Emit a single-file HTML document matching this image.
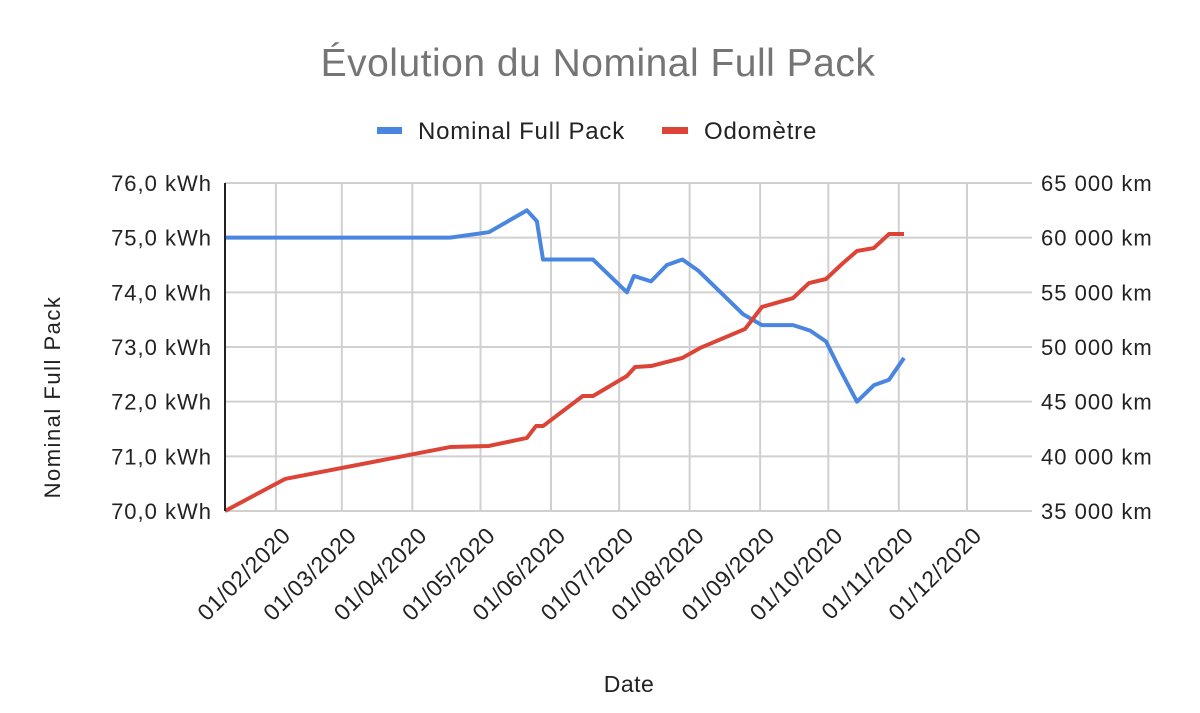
<!DOCTYPE html>
<html><head><meta charset="utf-8"><style>
body{margin:0;background:#fff}
svg text{font-family:"Liberation Sans",Arial,sans-serif}
</style></head><body>
<svg id="chart" width="1200" height="708" viewBox="0 0 1200 708" xmlns="http://www.w3.org/2000/svg">
<text x="598" y="76" text-anchor="middle" font-size="39" letter-spacing="0.5" fill="#757575">Évolution du Nominal Full Pack</text>
<g>
<g><rect x="377" y="127" width="25" height="7" fill="#4a86e0"/><text x="418" y="139" font-size="24" letter-spacing="0.8" fill="#222">Nominal Full Pack</text></g>
<g><rect x="662" y="127" width="26" height="7" fill="#db4437"/><text x="704" y="139" font-size="24" letter-spacing="0.8" fill="#222">Odomètre</text></g>
</g>
<g id="grid"></g>
<g id="series"></g>
<g id="axes"></g>
<text transform="translate(60,397) rotate(-90)" text-anchor="middle" font-size="22" letter-spacing="1.5" fill="#222">Nominal Full Pack</text>
<text x="629" y="692" text-anchor="middle" font-size="23" letter-spacing="0.5" fill="#222">Date</text>
</svg>
<script>
const leftTicks=["70,0 kWh","71,0 kWh","72,0 kWh","73,0 kWh","74,0 kWh","75,0 kWh","76,0 kWh"];
const rightTicks=["35 000 km","40 000 km","45 000 km","50 000 km","55 000 km","60 000 km","65 000 km"];
const monthLabels=["01/02/2020","01/03/2020","01/04/2020","01/05/2020","01/06/2020","01/07/2020","01/08/2020","01/09/2020","01/10/2020","01/11/2020","01/12/2020"];
const monthDays=[31,60,91,121,152,182,213,244,274,305,335];
const nfpDays=[8.6,107.6,124.7,141.4,145.8,148.5,170.5,185.4,188.5,196,203,209.8,216.7,236.5,244.8,258.5,266,273,279,286.6,294,300.7,307.3];
const nfpValues=[75.0,75.0,75.1,75.5,75.3,74.6,74.6,74.0,74.3,74.2,74.5,74.6,74.4,73.6,73.4,73.4,73.3,73.1,72.6,72.0,72.3,72.4,72.8];
const odoDays=[8.6,35,107.6,124.7,141.4,145.4,148.5,166,170.5,185.4,189,196,209.8,217.5,237.4,244.8,258.5,265.5,273,280,286.6,294,300.7,307.3];
const odoValues=[35000,37930,40850,40950,41680,42770,42770,45520,45520,47350,48170,48260,49000,49900,51650,53660,54480,55850,56220,57590,58780,59050,60330,60330];

const NS="http://www.w3.org/2000/svg";
const X0=225,X1=1032,Y0=511,Y1=183,D0=8.6,D1=363.6;
const x=d=>X0+(d-D0)*(X1-X0)/(D1-D0);
const yL=v=>Y0-(v-70)*(Y0-Y1)/6;
const yR=v=>Y0-(v-35000)*(Y0-Y1)/30000;
function mk(tag,attrs,parent){const e=document.createElementNS(NS,tag);for(const k in attrs)e.setAttribute(k,attrs[k]);parent.appendChild(e);return e;}
const grid=document.getElementById('grid'),axes=document.getElementById('axes'),ser=document.getElementById('series');
leftTicks.forEach((t,i)=>{
  const yy=Y0-i*(Y0-Y1)/6;
  const g=mk('line',{x1:X0,x2:X1,y1:yy,y2:yy,stroke:'#d0d0d0','stroke-width':2},grid);
  
  
  const a=mk('text',{x:212,y:yy+8,'text-anchor':'end','font-size':22,'letter-spacing':1,fill:'#222'},axes);a.textContent=t;
  
  
  const b=mk('text',{x:1041,y:yy+8,'font-size':22,'letter-spacing':1,fill:'#222'},axes);b.textContent=rightTicks[i];
  
  
});
monthDays.forEach((d,i)=>{
  const xx=x(d);
  const g=mk('line',{x1:xx,x2:xx,y1:Y1,y2:Y0,stroke:'#d0d0d0','stroke-width':2},grid);
  
  
  const t=mk('text',{transform:`translate(${xx+16},${Y0+26}) rotate(-45)`,'text-anchor':'end','font-size':23,'letter-spacing':0.5,fill:'#222'},axes);
  t.textContent=monthLabels[i];
  
  
});
const ax=mk('line',{x1:X0,x2:X0,y1:Y1,y2:Y0,stroke:'#222','stroke-width':2},axes);


const p1=mk('polyline',{points:nfpDays.map((d,i)=>x(d)+','+yL(nfpValues[i])).join(' '),fill:'none',stroke:'#4a86e0','stroke-width':4,'stroke-linejoin':'round'},ser);


const p2=mk('polyline',{points:odoDays.map((d,i)=>x(d)+','+yR(odoValues[i])).join(' '),fill:'none',stroke:'#db4437','stroke-width':4,'stroke-linejoin':'round'},ser);


</script>
</body></html>
